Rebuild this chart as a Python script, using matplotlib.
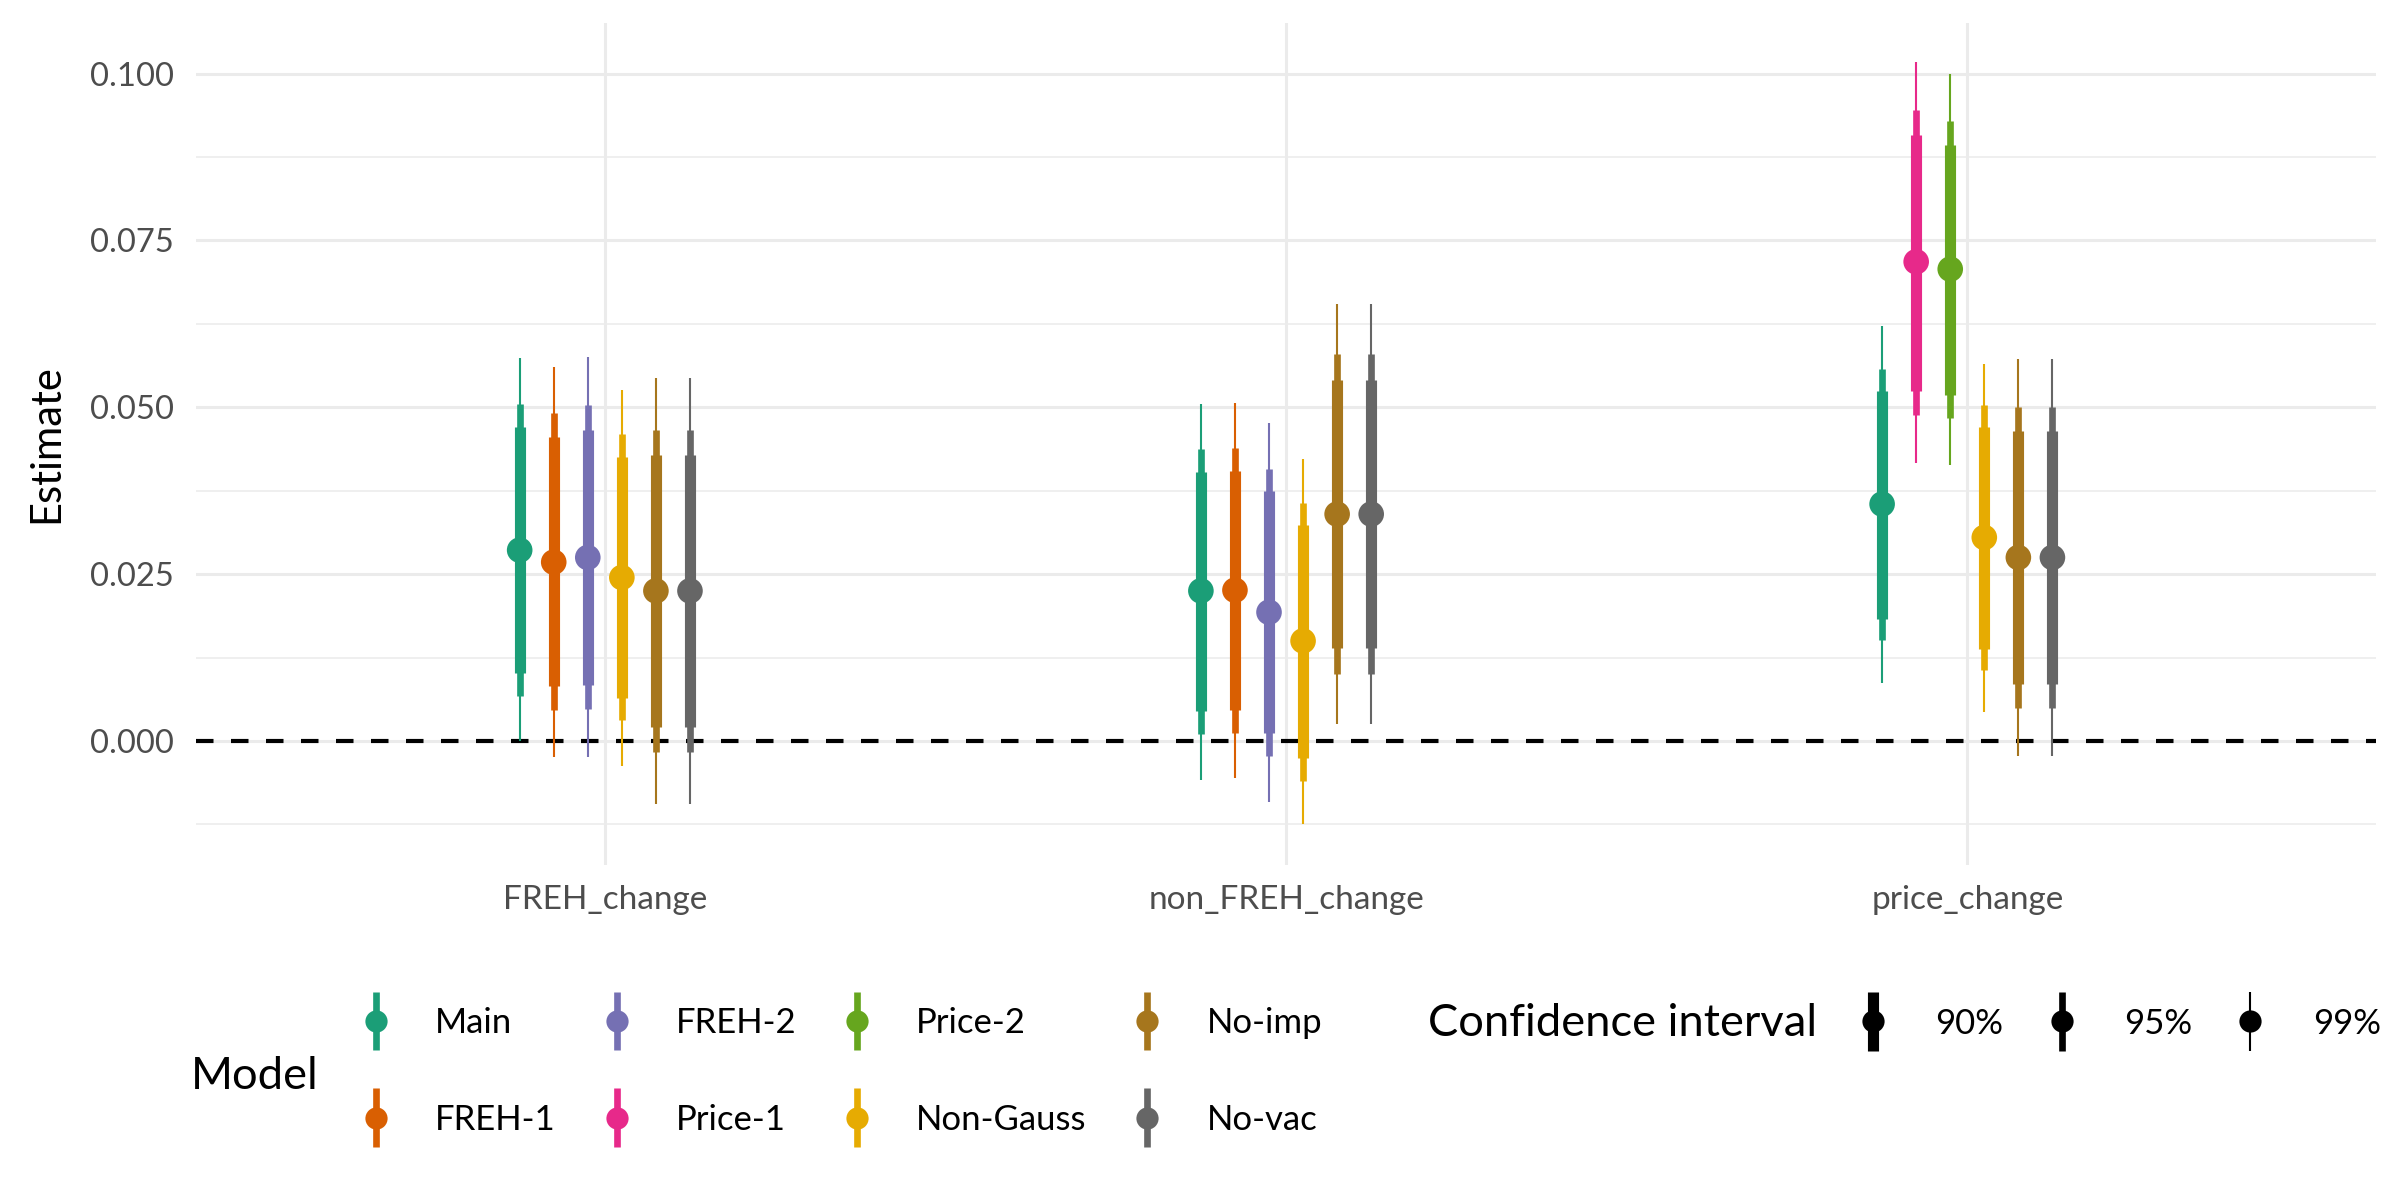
import numpy as np
import matplotlib
matplotlib.use('Agg')
import matplotlib.pyplot as plt
from matplotlib.lines import Line2D
from matplotlib.collections import LineCollection
from matplotlib.container import ErrorbarContainer
from matplotlib.legend_handler import HandlerErrorbar
from matplotlib.ticker import MultipleLocator

plt.rcParams['font.family'] = ['Lato', 'DejaVu Sans']

# outcomes on the x axis
outcomes = ['FREH_change', 'non_FREH_change', 'price_change']

# models (legend order) and colours
models = ['Main', 'FREH-1', 'FREH-2', 'Price-1', 'Price-2', 'Non-Gauss', 'No-imp', 'No-vac']
colors = ['#1B9E77', '#D95F02', '#7570B3', '#E7298A', '#66A61E', '#E6AB02', '#A6761D', '#666666']

# models estimated for each outcome (dodge order)
freh_models = ['Main', 'FREH-1', 'FREH-2', 'Non-Gauss', 'No-imp', 'No-vac']
nonfreh_models = ['Main', 'FREH-1', 'FREH-2', 'Non-Gauss', 'No-imp', 'No-vac']
price_models = ['Main', 'Price-1', 'Price-2', 'Non-Gauss', 'No-imp', 'No-vac']

# FREH_change
freh_est = [0.0286, 0.0268, 0.0275, 0.0245, 0.0225, 0.0225]
freh_lo90 = [0.0102, 0.0083, 0.0084, 0.0065, 0.0021, 0.0021]
freh_hi90 = [0.0470, 0.0455, 0.0466, 0.0425, 0.0428, 0.0428]
freh_lo95 = [0.0067, 0.0047, 0.0048, 0.0031, -0.0017, -0.0017]
freh_hi95 = [0.0505, 0.0491, 0.0503, 0.0460, 0.0466, 0.0466]
freh_lo99 = [0.0000, -0.0024, -0.0024, -0.0037, -0.0095, -0.0095]
freh_hi99 = [0.0574, 0.0561, 0.0575, 0.0526, 0.0544, 0.0544]

# non_FREH_change
nonfreh_est = [0.0225, 0.0226, 0.0193, 0.0150, 0.0340, 0.0340]
nonfreh_lo90 = [0.0045, 0.0047, 0.0012, -0.0026, 0.0139, 0.0139]
nonfreh_hi90 = [0.0403, 0.0404, 0.0374, 0.0324, 0.0541, 0.0541]
nonfreh_lo95 = [0.0010, 0.0012, -0.0023, -0.0060, 0.0101, 0.0101]
nonfreh_hi95 = [0.0437, 0.0439, 0.0408, 0.0357, 0.0580, 0.0580]
nonfreh_lo99 = [-0.0058, -0.0056, -0.0091, -0.0125, 0.0025, 0.0025]
nonfreh_hi99 = [0.0505, 0.0506, 0.0476, 0.0423, 0.0655, 0.0655]

# price_change
price_est = [0.0355, 0.0718, 0.0707, 0.0305, 0.0275, 0.0275]
price_lo90 = [0.0183, 0.0525, 0.0519, 0.0138, 0.0085, 0.0085]
price_hi90 = [0.0525, 0.0908, 0.0893, 0.0471, 0.0464, 0.0464]
price_lo95 = [0.0151, 0.0489, 0.0484, 0.0107, 0.0049, 0.0049]
price_hi95 = [0.0558, 0.0945, 0.0929, 0.0503, 0.0501, 0.0501]
price_lo99 = [0.0087, 0.0417, 0.0413, 0.0044, -0.0023, -0.0023]
price_hi99 = [0.0622, 0.1017, 0.0999, 0.0565, 0.0572, 0.0572]

ci_labels = ['90%', '95%', '99%']
ci_widths = [4.0, 2.4, 0.75]

groups = [
    (freh_models, freh_est, freh_lo90, freh_hi90, freh_lo95, freh_hi95, freh_lo99, freh_hi99),
    (nonfreh_models, nonfreh_est, nonfreh_lo90, nonfreh_hi90, nonfreh_lo95, nonfreh_hi95, nonfreh_lo99, nonfreh_hi99),
    (price_models, price_est, price_lo90, price_hi90, price_lo95, price_hi95, price_lo99, price_hi99),
]
col = dict(zip(models, colors))

fig = plt.figure(figsize=(12, 6), dpi=200)
ax = fig.add_axes([0.0817, 0.279, 0.9083, 0.702])

ax.axhline(0, color='black', lw=1.5, ls=(0, (4.2, 4.2)), zorder=1)

for g, (mods, est, lo90, hi90, lo95, hi95, lo99, hi99) in enumerate(groups):
    xs = g + 1 + np.linspace(-0.125, 0.125, len(mods))
    cs = [col[m] for m in mods]
    ax.vlines(xs, lo99, hi99, colors=cs, linewidth=ci_widths[2], zorder=2)
    ax.vlines(xs, lo95, hi95, colors=cs, linewidth=ci_widths[1], zorder=3)
    ax.vlines(xs, lo90, hi90, colors=cs, linewidth=ci_widths[0], zorder=4)
    ax.scatter(xs, est, s=85, c=cs, zorder=5, linewidths=0)

ax.set_xlim(0.4, 3.6)
ax.set_ylim(-0.0186, 0.1076)
ax.set_xticks([1, 2, 3])
ax.set_xticklabels(outcomes)
ax.yaxis.set_major_locator(MultipleLocator(0.025))
ax.yaxis.set_minor_locator(MultipleLocator(0.0125))
ax.yaxis.set_major_formatter(matplotlib.ticker.FormatStrFormatter('%.3f'))
ax.grid(True, which='major', color='#EBEBEB', lw=1.1, zorder=0)
ax.grid(True, which='minor', axis='y', color='#EBEBEB', lw=0.55, zorder=0)
ax.set_axisbelow(True)
ax.tick_params(which='both', length=0, labelcolor='#4D4D4D')
ax.tick_params(axis='y', pad=8, labelsize=11.8)
ax.tick_params(axis='x', pad=7, labelsize=12)
for s in ax.spines.values():
    s.set_visible(False)
ax.set_ylabel('Estimate', fontsize=15, labelpad=9)


def err_handle(c, lw, label):
    pt = Line2D([], [], marker='o', ls='none', color=c, markersize=8, markeredgewidth=0)
    bars = LineCollection([], colors=c, linewidths=lw)
    return ErrorbarContainer((pt, (), (bars,)), has_xerr=False, has_yerr=True, label=label)


hmap = {ErrorbarContainer: HandlerErrorbar(xerr_size=0.5, yerr_size=0.84)}

model_handles = [err_handle(c, 2.4, m) for m, c in zip(models, colors)]
fig.text(0.0796, 0.103, 'Model', fontsize=16.3, va='center', ha='left')
fig.legend(handles=model_handles, handler_map=hmap, loc='center left',
           bbox_to_anchor=(0.1423, 0.107), ncol=4, frameon=False, fontsize=12.5,
           borderpad=0, handlelength=1.0, handletextpad=1.2, columnspacing=1.25,
           labelspacing=1.85, numpoints=1)

ci_handles = [err_handle('black', w, l) for l, w in zip(ci_labels, ci_widths)]
fig.text(0.595, 0.147, 'Confidence interval', fontsize=16.3, va='center', ha='left')
fig.legend(handles=ci_handles, handler_map=hmap, loc='center left',
           bbox_to_anchor=(0.766, 0.147), ncol=3, frameon=False, fontsize=12.5,
           borderpad=0, handlelength=1.0, handletextpad=1.3, columnspacing=1.17,
           numpoints=1)

fig.savefig('out.png', dpi=200)
